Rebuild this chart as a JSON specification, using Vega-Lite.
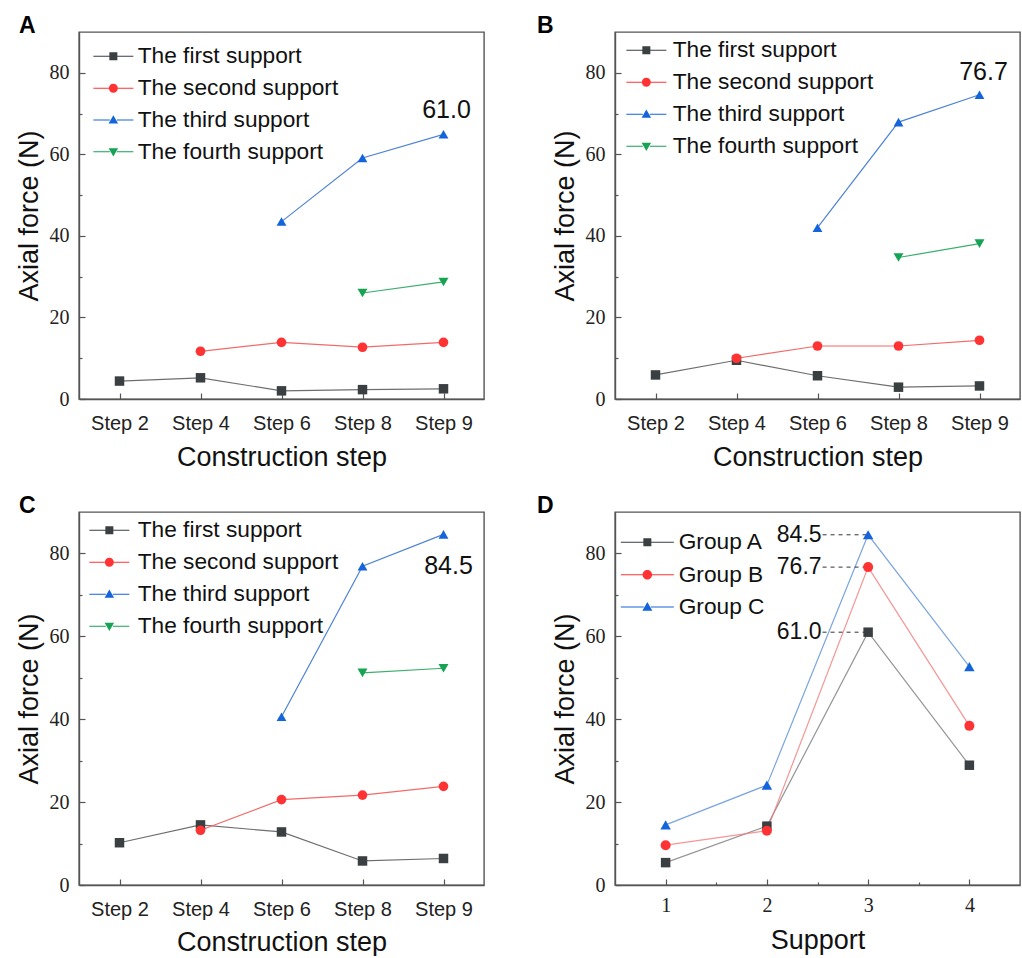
{
  "$schema": "https://vega.github.io/schema/vega-lite/v6.json",
  "padding": {"left": 14, "top": 14, "right": 2, "bottom": 0},
  "columns": 2,
  "spacing": {"row": 113, "column": 131},
  "bounds": "flush",
  "align": "each",
  "resolve": {"scale": {"color": "independent", "fill": "independent", "stroke": "independent", "shape": "independent", "size": "independent"}},
  "datasets": {
    "A": [
      {"step": "Step 2", "series": "The first support", "force": 4.4},
      {"step": "Step 4", "series": "The first support", "force": 5.2},
      {"step": "Step 6", "series": "The first support", "force": 2.0},
      {"step": "Step 8", "series": "The first support", "force": 2.3},
      {"step": "Step 9", "series": "The first support", "force": 2.5},
      {"step": "Step 4", "series": "The second support", "force": 11.7},
      {"step": "Step 6", "series": "The second support", "force": 13.9},
      {"step": "Step 8", "series": "The second support", "force": 12.7},
      {"step": "Step 9", "series": "The second support", "force": 13.9},
      {"step": "Step 6", "series": "The third support", "force": 43.5},
      {"step": "Step 8", "series": "The third support", "force": 59.1},
      {"step": "Step 9", "series": "The third support", "force": 64.9},
      {"step": "Step 8", "series": "The fourth support", "force": 26.0},
      {"step": "Step 9", "series": "The fourth support", "force": 28.7}
    ],
    "B": [
      {"step": "Step 2", "series": "The first support", "force": 5.9},
      {"step": "Step 4", "series": "The first support", "force": 9.5},
      {"step": "Step 6", "series": "The first support", "force": 5.7},
      {"step": "Step 8", "series": "The first support", "force": 2.9},
      {"step": "Step 9", "series": "The first support", "force": 3.2},
      {"step": "Step 4", "series": "The second support", "force": 10.0},
      {"step": "Step 6", "series": "The second support", "force": 13.0},
      {"step": "Step 8", "series": "The second support", "force": 13.0},
      {"step": "Step 9", "series": "The second support", "force": 14.4},
      {"step": "Step 6", "series": "The third support", "force": 42.0},
      {"step": "Step 8", "series": "The third support", "force": 67.9},
      {"step": "Step 9", "series": "The third support", "force": 74.6},
      {"step": "Step 8", "series": "The fourth support", "force": 34.7},
      {"step": "Step 9", "series": "The fourth support", "force": 38.1}
    ],
    "C": [
      {"step": "Step 2", "series": "The first support", "force": 10.2},
      {"step": "Step 4", "series": "The first support", "force": 14.5},
      {"step": "Step 6", "series": "The first support", "force": 12.8},
      {"step": "Step 8", "series": "The first support", "force": 5.8},
      {"step": "Step 9", "series": "The first support", "force": 6.4},
      {"step": "Step 4", "series": "The second support", "force": 13.2},
      {"step": "Step 6", "series": "The second support", "force": 20.6},
      {"step": "Step 8", "series": "The second support", "force": 21.7},
      {"step": "Step 9", "series": "The second support", "force": 23.8},
      {"step": "Step 6", "series": "The third support", "force": 40.6},
      {"step": "Step 8", "series": "The third support", "force": 76.9},
      {"step": "Step 9", "series": "The third support", "force": 84.6},
      {"step": "Step 8", "series": "The fourth support", "force": 51.2},
      {"step": "Step 9", "series": "The fourth support", "force": 52.3}
    ],
    "D": [
      {"support": 1, "group": "Group A", "force": 5.4},
      {"support": 2, "group": "Group A", "force": 14.2},
      {"support": 3, "group": "Group A", "force": 61.0},
      {"support": 4, "group": "Group A", "force": 28.9},
      {"support": 1, "group": "Group B", "force": 9.6},
      {"support": 2, "group": "Group B", "force": 13.1},
      {"support": 3, "group": "Group B", "force": 76.7},
      {"support": 4, "group": "Group B", "force": 38.4},
      {"support": 1, "group": "Group C", "force": 14.5},
      {"support": 2, "group": "Group C", "force": 24.1},
      {"support": 3, "group": "Group C", "force": 84.5},
      {"support": 4, "group": "Group C", "force": 52.7}
    ],
    "Anote": [{"step": "Step 9", "force": 64.9, "label": "61.0"}],
    "Bnote": [{"step": "Step 9", "force": 74.6, "label": "76.7"}],
    "Cnote": [{"step": "Step 9", "force": 84.6, "label": "84.5"}]
  },
  "concat": [
    {
      "width": 405, "height": 367,
      "title": {"text": "A", "anchor": "start", "frame": "group", "dx": -60, "dy": 23, "offset": -1, "baseline": "alphabetic", "fontSize": 23, "fontWeight": "bold", "font": "Liberation Sans", "color": "#000"},
      "data": {"name": "A"},
      "encoding": {
        "x": {"field": "step", "type": "ordinal", "scale": {"type": "point", "padding": 0.5, "domain": ["Step 2", "Step 4", "Step 6", "Step 8", "Step 9"]},
              "axis": {"title": "Construction step", "labelAngle": 0, "tickSize": -6, "labelPadding": 20, "labelFont": "Liberation Sans", "labelFontSize": 20, "titleFont": "Liberation Sans", "titleFontSize": 27, "titleY": 66, "titleBaseline": "alphabetic"}},
        "y": {"field": "force", "type": "quantitative", "scale": {"domain": [0, 90], "nice": false, "zero": false},
              "axis": {"title": "Axial force (N)", "values": [0, 10, 20, 30, 40, 50, 60, 70, 80], "labelExpr": "datum.value % 20 === 0 ? datum.label : ''", "tickSize": {"condition": {"test": "datum.value % 20 === 0", "value": -6}, "value": -3}, "labelPadding": 16, "labelFont": "Liberation Serif", "labelFontSize": 20, "titleFont": "Liberation Sans", "titleFontSize": 27, "titleX": -42, "titleBaseline": "alphabetic"}}
      },
      "layer": [
        {"mark": {"type": "line", "strokeWidth": 1.2},
         "encoding": {"stroke": {"field": "series", "type": "nominal", "scale": {"domain": ["The first support", "The second support", "The third support", "The fourth support"], "range": ["#6e6e6e", "#f26b6b", "#4f84d6", "#3aae6c"]}, "legend": null}}},
        {"mark": {"type": "point", "filled": true, "opacity": 1},
         "encoding": {
           "fill": {"field": "series", "type": "nominal", "scale": {"domain": ["The first support", "The second support", "The third support", "The fourth support"], "range": ["#3a3f42", "#ff3333", "#1464dc", "#16a353"]}, "legend": null},
           "shape": {"field": "series", "type": "nominal", "scale": {"domain": ["The first support", "The second support", "The third support", "The fourth support"], "range": ["square", "circle", "triangle-up", "triangle-down"]}, "legend": null},
           "size": {"field": "series", "type": "ordinal", "scale": {"domain": ["The first support", "The second support", "The third support", "The fourth support"], "range": [90, 100, 220, 220]}, "legend": null}}},
        {"mark": {"type": "point", "filled": true, "size": 100, "opacity": 0},
         "encoding": {
           "color": {"field": "series", "type": "nominal", "scale": {"domain": ["The first support", "The second support", "The third support", "The fourth support"], "range": ["#3a3f42", "#ff3333", "#1464dc", "#16a353"]},
                     "legend": {"title": null, "orient": "none", "legendX": 23, "legendY": 13, "symbolSize": 100, "symbolOpacity": 1, "symbolStrokeWidth": 0, "labelFont": "Liberation Sans", "labelFontSize": 22.7, "labelColor": "#111", "labelOffset": 13, "rowPadding": 7.8, "padding": 0, "labelLimit": 500}},
           "shape": {"field": "series", "type": "nominal", "scale": {"domain": ["The first support", "The second support", "The third support", "The fourth support"], "range": [
               "M-4,-0.1H-0.7V0.1H-4ZM0.7,-0.1H4V0.1H0.7ZM-0.8,-0.8H0.8V0.8H-0.8Z",
               "M-4,-0.1H-0.7V0.1H-4ZM0.7,-0.1H4V0.1H0.7ZM-0.9,0A0.9,0.9,0,1,1,0.9,0A0.9,0.9,0,1,1,-0.9,0Z",
               "M-4,-0.1H-0.7V0.1H-4ZM0.7,-0.1H4V0.1H0.7ZM0,-0.95L0.95,0.7L-0.95,0.7Z",
               "M-4,-0.1H-0.7V0.1H-4ZM0.7,-0.1H4V0.1H0.7ZM0,0.95L0.95,-0.7L-0.95,-0.7Z"]},
                     "legend": {"title": null, "orient": "none", "legendX": 23, "legendY": 13, "symbolSize": 100, "symbolOpacity": 1, "symbolStrokeWidth": 0, "labelFont": "Liberation Sans", "labelFontSize": 22.7, "labelColor": "#111", "labelOffset": 13, "rowPadding": 7.8, "padding": 0, "labelLimit": 500}}}},
        {"data": {"name": "Anote"},
         "mark": {"type": "text", "dx": 3, "dy": -24, "fontSize": 25, "font": "Liberation Sans", "color": "#111"},
         "encoding": {"text": {"field": "label"}}}
      ],
      "resolve": {"scale": {"shape": "independent", "color": "independent"}}
    },
    {
      "width": 405, "height": 367,
      "title": {"text": "B", "anchor": "start", "frame": "group", "dx": -78, "dy": 23, "offset": -1, "baseline": "alphabetic", "fontSize": 23, "fontWeight": "bold", "font": "Liberation Sans", "color": "#000"},
      "data": {"name": "B"},
      "encoding": {
        "x": {"field": "step", "type": "ordinal", "scale": {"type": "point", "padding": 0.5, "domain": ["Step 2", "Step 4", "Step 6", "Step 8", "Step 9"]},
              "axis": {"title": "Construction step", "labelAngle": 0, "tickSize": -6, "labelPadding": 20, "labelFont": "Liberation Sans", "labelFontSize": 20, "titleFont": "Liberation Sans", "titleFontSize": 27, "titleY": 66, "titleBaseline": "alphabetic"}},
        "y": {"field": "force", "type": "quantitative", "scale": {"domain": [0, 90], "nice": false, "zero": false},
              "axis": {"title": "Axial force (N)", "values": [0, 10, 20, 30, 40, 50, 60, 70, 80], "labelExpr": "datum.value % 20 === 0 ? datum.label : ''", "tickSize": {"condition": {"test": "datum.value % 20 === 0", "value": -6}, "value": -3}, "labelPadding": 16, "labelFont": "Liberation Serif", "labelFontSize": 20, "titleFont": "Liberation Sans", "titleFontSize": 27, "titleX": -42, "titleBaseline": "alphabetic"}}
      },
      "layer": [
        {"mark": {"type": "line", "strokeWidth": 1.2},
         "encoding": {"stroke": {"field": "series", "type": "nominal", "scale": {"domain": ["The first support", "The second support", "The third support", "The fourth support"], "range": ["#6e6e6e", "#f26b6b", "#4f84d6", "#3aae6c"]}, "legend": null}}},
        {"mark": {"type": "point", "filled": true, "opacity": 1},
         "encoding": {
           "fill": {"field": "series", "type": "nominal", "scale": {"domain": ["The first support", "The second support", "The third support", "The fourth support"], "range": ["#3a3f42", "#ff3333", "#1464dc", "#16a353"]}, "legend": null},
           "shape": {"field": "series", "type": "nominal", "scale": {"domain": ["The first support", "The second support", "The third support", "The fourth support"], "range": ["square", "circle", "triangle-up", "triangle-down"]}, "legend": null},
           "size": {"field": "series", "type": "ordinal", "scale": {"domain": ["The first support", "The second support", "The third support", "The fourth support"], "range": [90, 100, 220, 220]}, "legend": null}}},
        {"mark": {"type": "point", "filled": true, "size": 100, "opacity": 0},
         "encoding": {
           "color": {"field": "series", "type": "nominal", "scale": {"domain": ["The first support", "The second support", "The third support", "The fourth support"], "range": ["#3a3f42", "#ff3333", "#1464dc", "#16a353"]},
                     "legend": {"title": null, "orient": "none", "legendX": 20, "legendY": 7, "symbolSize": 100, "symbolOpacity": 1, "symbolStrokeWidth": 0, "labelFont": "Liberation Sans", "labelFontSize": 22.7, "labelColor": "#111", "labelOffset": 15, "rowPadding": 8, "padding": 0, "labelLimit": 500}},
           "shape": {"field": "series", "type": "nominal", "scale": {"domain": ["The first support", "The second support", "The third support", "The fourth support"], "range": [
               "M-4,-0.1H-0.7V0.1H-4ZM0.7,-0.1H4V0.1H0.7ZM-0.8,-0.8H0.8V0.8H-0.8Z",
               "M-4,-0.1H-0.7V0.1H-4ZM0.7,-0.1H4V0.1H0.7ZM-0.9,0A0.9,0.9,0,1,1,0.9,0A0.9,0.9,0,1,1,-0.9,0Z",
               "M-4,-0.1H-0.7V0.1H-4ZM0.7,-0.1H4V0.1H0.7ZM0,-0.95L0.95,0.7L-0.95,0.7Z",
               "M-4,-0.1H-0.7V0.1H-4ZM0.7,-0.1H4V0.1H0.7ZM0,0.95L0.95,-0.7L-0.95,-0.7Z"]},
                     "legend": {"title": null, "orient": "none", "legendX": 20, "legendY": 7, "symbolSize": 100, "symbolOpacity": 1, "symbolStrokeWidth": 0, "labelFont": "Liberation Sans", "labelFontSize": 22.7, "labelColor": "#111", "labelOffset": 15, "rowPadding": 8, "padding": 0, "labelLimit": 500}}}},
        {"data": {"name": "Bnote"},
         "mark": {"type": "text", "dx": 4, "dy": -23, "fontSize": 25, "font": "Liberation Sans", "color": "#111"},
         "encoding": {"text": {"field": "label"}}}
      ],
      "resolve": {"scale": {"shape": "independent", "color": "independent"}}
    },
    {
      "width": 405, "height": 373,
      "title": {"text": "C", "anchor": "start", "frame": "group", "dx": -60, "dy": 23, "offset": -1, "baseline": "alphabetic", "fontSize": 23, "fontWeight": "bold", "font": "Liberation Sans", "color": "#000"},
      "data": {"name": "C"},
      "encoding": {
        "x": {"field": "step", "type": "ordinal", "scale": {"type": "point", "padding": 0.5, "domain": ["Step 2", "Step 4", "Step 6", "Step 8", "Step 9"]},
              "axis": {"title": "Construction step", "labelAngle": 0, "tickSize": -6, "labelPadding": 20, "labelFont": "Liberation Sans", "labelFontSize": 20, "titleFont": "Liberation Sans", "titleFontSize": 27, "titleY": 65, "titleBaseline": "alphabetic"}},
        "y": {"field": "force", "type": "quantitative", "scale": {"domain": [0, 90], "nice": false, "zero": false},
              "axis": {"title": "Axial force (N)", "values": [0, 10, 20, 30, 40, 50, 60, 70, 80], "labelExpr": "datum.value % 20 === 0 ? datum.label : ''", "tickSize": {"condition": {"test": "datum.value % 20 === 0", "value": -6}, "value": -3}, "labelPadding": 16, "labelFont": "Liberation Serif", "labelFontSize": 20, "titleFont": "Liberation Sans", "titleFontSize": 27, "titleX": -42, "titleBaseline": "alphabetic"}}
      },
      "layer": [
        {"mark": {"type": "line", "strokeWidth": 1.2},
         "encoding": {"stroke": {"field": "series", "type": "nominal", "scale": {"domain": ["The first support", "The second support", "The third support", "The fourth support"], "range": ["#6e6e6e", "#f26b6b", "#4f84d6", "#3aae6c"]}, "legend": null}}},
        {"mark": {"type": "point", "filled": true, "opacity": 1},
         "encoding": {
           "fill": {"field": "series", "type": "nominal", "scale": {"domain": ["The first support", "The second support", "The third support", "The fourth support"], "range": ["#3a3f42", "#ff3333", "#1464dc", "#16a353"]}, "legend": null},
           "shape": {"field": "series", "type": "nominal", "scale": {"domain": ["The first support", "The second support", "The third support", "The fourth support"], "range": ["square", "circle", "triangle-up", "triangle-down"]}, "legend": null},
           "size": {"field": "series", "type": "ordinal", "scale": {"domain": ["The first support", "The second support", "The third support", "The fourth support"], "range": [90, 100, 220, 220]}, "legend": null}}},
        {"mark": {"type": "point", "filled": true, "size": 100, "opacity": 0},
         "encoding": {
           "color": {"field": "series", "type": "nominal", "scale": {"domain": ["The first support", "The second support", "The third support", "The fourth support"], "range": ["#3a3f42", "#ff3333", "#1464dc", "#16a353"]},
                     "legend": {"title": null, "orient": "none", "legendX": 19, "legendY": 7, "symbolSize": 100, "symbolOpacity": 1, "symbolStrokeWidth": 0, "labelFont": "Liberation Sans", "labelFontSize": 22.7, "labelColor": "#111", "labelOffset": 17, "rowPadding": 8, "padding": 0, "labelLimit": 500}},
           "shape": {"field": "series", "type": "nominal", "scale": {"domain": ["The first support", "The second support", "The third support", "The fourth support"], "range": [
               "M-4,-0.1H-0.7V0.1H-4ZM0.7,-0.1H4V0.1H0.7ZM-0.8,-0.8H0.8V0.8H-0.8Z",
               "M-4,-0.1H-0.7V0.1H-4ZM0.7,-0.1H4V0.1H0.7ZM-0.9,0A0.9,0.9,0,1,1,0.9,0A0.9,0.9,0,1,1,-0.9,0Z",
               "M-4,-0.1H-0.7V0.1H-4ZM0.7,-0.1H4V0.1H0.7ZM0,-0.95L0.95,0.7L-0.95,0.7Z",
               "M-4,-0.1H-0.7V0.1H-4ZM0.7,-0.1H4V0.1H0.7ZM0,0.95L0.95,-0.7L-0.95,-0.7Z"]},
                     "legend": {"title": null, "orient": "none", "legendX": 19, "legendY": 7, "symbolSize": 100, "symbolOpacity": 1, "symbolStrokeWidth": 0, "labelFont": "Liberation Sans", "labelFontSize": 22.7, "labelColor": "#111", "labelOffset": 17, "rowPadding": 8, "padding": 0, "labelLimit": 500}}}},
        {"data": {"name": "Cnote"},
         "mark": {"type": "text", "dx": 5, "dy": 32, "fontSize": 25, "font": "Liberation Sans", "color": "#111"},
         "encoding": {"text": {"field": "label"}}}
      ],
      "resolve": {"scale": {"shape": "independent", "color": "independent"}}
    },
    {
      "width": 405, "height": 373,
      "title": {"text": "D", "anchor": "start", "frame": "group", "dx": -78, "dy": 23, "offset": -1, "baseline": "alphabetic", "fontSize": 23, "fontWeight": "bold", "font": "Liberation Sans", "color": "#000"},
      "data": {"name": "D"},
      "encoding": {
        "x": {"field": "support", "type": "quantitative", "scale": {"domain": [0.5, 4.5], "nice": false, "zero": false},
              "axis": {"title": "Support", "values": [1, 1.5, 2, 2.5, 3, 3.5, 4], "labelExpr": "datum.value % 1 === 0 ? format(datum.value, 'd') : ''", "tickSize": {"condition": {"test": "datum.value % 1 === 0", "value": -6}, "value": -3}, "labelPadding": 16, "labelFont": "Liberation Serif", "labelFontSize": 20, "titleFont": "Liberation Sans", "titleFontSize": 27, "titleY": 63, "titleBaseline": "alphabetic"}},
        "y": {"field": "force", "type": "quantitative", "scale": {"domain": [0, 90], "nice": false, "zero": false},
              "axis": {"title": "Axial force (N)", "values": [0, 10, 20, 30, 40, 50, 60, 70, 80], "labelExpr": "datum.value % 20 === 0 ? datum.label : ''", "tickSize": {"condition": {"test": "datum.value % 20 === 0", "value": -6}, "value": -3}, "labelPadding": 16, "labelFont": "Liberation Serif", "labelFontSize": 20, "titleFont": "Liberation Sans", "titleFontSize": 27, "titleX": -42, "titleBaseline": "alphabetic"}}
      },
      "layer": [
        {"mark": {"type": "line", "strokeWidth": 1.2, "opacity": 0.8},
         "encoding": {"stroke": {"field": "group", "type": "nominal", "scale": {"domain": ["Group A", "Group B", "Group C"], "range": ["#7a7a7a", "#f47a7a", "#5a8ed8"]}, "legend": null}}},
        {"transform": [{"filter": "datum.support === 3"}],
         "mark": {"type": "rule", "strokeDash": [4, 4], "color": "#333", "strokeWidth": 1},
         "encoding": {"x": {"datum": 2.55, "type": "quantitative"}, "x2": {"field": "support"}}},
        {"transform": [{"filter": "datum.support === 3"}],
         "mark": {"type": "text", "align": "right", "baseline": "middle", "dx": -1, "fontSize": 23, "font": "Liberation Sans", "color": "#111"},
         "encoding": {"x": {"datum": 2.55, "type": "quantitative"}, "text": {"field": "force", "type": "quantitative", "format": ".1f"}}},
        {"mark": {"type": "point", "filled": true, "opacity": 1},
         "encoding": {
           "fill": {"field": "group", "type": "nominal", "scale": {"domain": ["Group A", "Group B", "Group C"], "range": ["#3a3f42", "#ff3333", "#1464dc"]}, "legend": null},
           "shape": {"field": "group", "type": "nominal", "scale": {"domain": ["Group A", "Group B", "Group C"], "range": ["square", "circle", "triangle-up"]}, "legend": null},
           "size": {"field": "group", "type": "ordinal", "scale": {"domain": ["Group A", "Group B", "Group C"], "range": [90, 110, 220]}, "legend": null}}},
        {"mark": {"type": "point", "filled": true, "size": 100, "opacity": 0},
         "encoding": {
           "color": {"field": "group", "type": "nominal", "scale": {"domain": ["Group A", "Group B", "Group C"], "range": ["#3a3f42", "#ff3333", "#1464dc"]},
                     "legend": {"title": null, "orient": "none", "legendX": 21, "legendY": 19, "symbolSize": 100, "symbolOpacity": 1, "symbolStrokeWidth": 0, "labelFont": "Liberation Sans", "labelFontSize": 22.7, "labelColor": "#111", "labelOffset": 20, "rowPadding": 8.3, "padding": 0, "labelLimit": 500}},
           "shape": {"field": "group", "type": "nominal", "scale": {"domain": ["Group A", "Group B", "Group C"], "range": [
               "M-5.3,-0.1H-0.7V0.1H-5.3ZM0.7,-0.1H5.3V0.1H0.7ZM-0.8,-0.8H0.8V0.8H-0.8Z",
               "M-5.3,-0.1H-0.7V0.1H-5.3ZM0.7,-0.1H5.3V0.1H0.7ZM-0.95,0A0.95,0.95,0,1,1,0.95,0A0.95,0.95,0,1,1,-0.95,0Z",
               "M-5.3,-0.1H-0.7V0.1H-5.3ZM0.7,-0.1H5.3V0.1H0.7ZM0,-1L1,0.75L-1,0.75Z"]},
                     "legend": {"title": null, "orient": "none", "legendX": 21, "legendY": 19, "symbolSize": 100, "symbolOpacity": 1, "symbolStrokeWidth": 0, "labelFont": "Liberation Sans", "labelFontSize": 22.7, "labelColor": "#111", "labelOffset": 20, "rowPadding": 8.3, "padding": 0, "labelLimit": 500}}}}
      ],
      "resolve": {"scale": {"shape": "independent", "color": "independent"}}
    }
  ],
  "config": {
    "font": "Liberation Sans",
    "view": {"stroke": "#555", "strokeWidth": 1.4},
    "axis": {"domainColor": "#555", "domainWidth": 1.4, "tickColor": "#555", "tickWidth": 1.2, "grid": false, "labelColor": "#222", "titleColor": "#111", "titleFontWeight": "normal", "labelFlush": false, "labelOverlap": false}
  }
}
